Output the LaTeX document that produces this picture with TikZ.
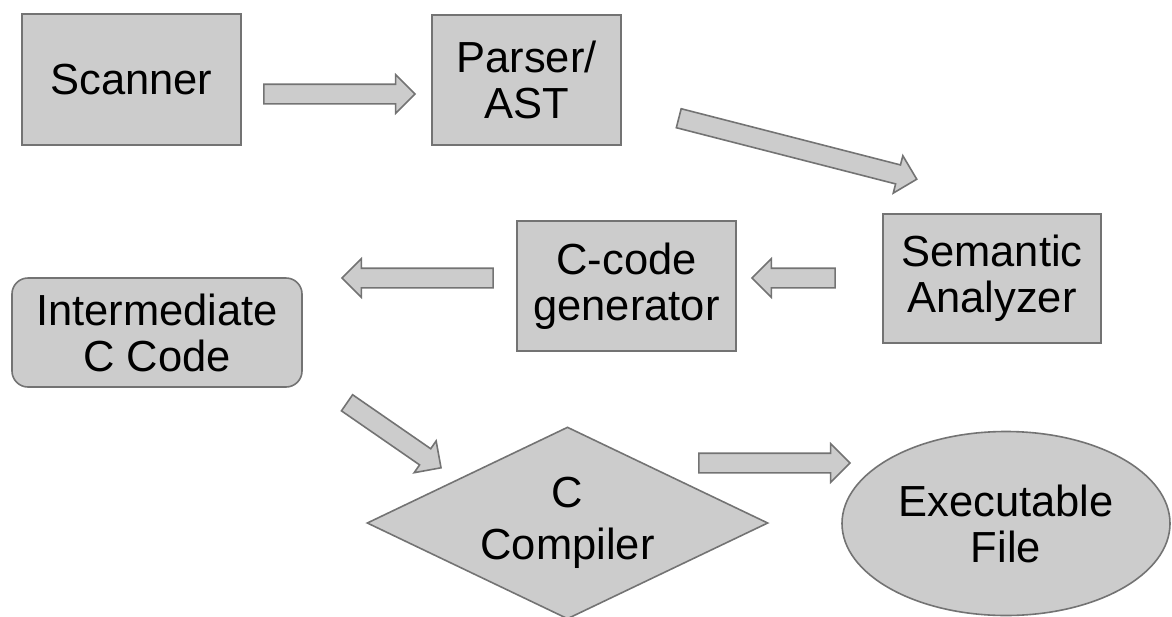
\documentclass[tikz,border=0pt]{standalone}
\usepackage{fontspec}
\setmainfont{Liberation Sans}
\usetikzlibrary{shapes.geometric,shapes.arrows,calc}
\definecolor{boxfill}{RGB}{204,204,204}
\definecolor{boxedge}{RGB}{115,115,115}
\tikzset{
  base/.style={draw=boxedge, fill=boxfill, line width=1.6pt, align=center, inner sep=0pt,
    font=\fontsize{43.5}{46}\selectfont},
  barrow/.style={single arrow, draw=boxedge, fill=boxfill, line width=1.6pt,
    inner xsep=0pt, inner ysep=9pt, single arrow head extend=9.5pt,
    single arrow tip angle=90, single arrow head indent=0pt},
}
\newcommand\blockarrow[2]{%
  \path let \p1=(#1), \p2=(#2),
    \n1={atan2(\y2-\y1,\x2-\x1)}, \n2={veclen(\x2-\x1,\y2-\y1)} in
    node[barrow, rotate=\n1, minimum height=\n2] at ($(#1)!0.5!(#2)$) {};}
\begin{document}
\begin{tikzpicture}[x=1pt,y=-1pt]
\useasboundingbox (0,0) rectangle (1172,616);
\node[base, minimum width=219pt, minimum height=131pt] (scan) at (131.5,79.5) {Scanner};
\node[base, minimum width=189pt, minimum height=130pt] (parse) at (526.5,80) {Parser/\\AST};
\node[base, minimum width=218pt, minimum height=129pt] (sem) at (992,278.5) {Semantic\\Analyzer};
\node[base, minimum width=219pt, minimum height=130pt] (cgen) at (626.5,286) {C-code\\generator};
\node[base, rounded corners=16pt, minimum width=290pt, minimum height=109pt] (inter) at (157,332.5) {Intermediate\\C Code};
\node[base, diamond, minimum width=401pt, minimum height=192pt, aspect=2.09,
  font=\fontsize{43.5}{52}\selectfont] (comp) at (567.5,523) {C\\Compiler};
\node[base, ellipse, minimum width=328pt, minimum height=184pt] (exe) at (1006,523.5) {Executable\\File};

\coordinate (a1s) at (259,94);  \coordinate (a1e) at (410,94);
\coordinate (a2s) at (674,117); \coordinate (a2e) at (912,178);
\coordinate (a3s) at (840,278); \coordinate (a3e) at (757,278);
\coordinate (a4s) at (498,278); \coordinate (a4e) at (347,278);
\coordinate (a5s) at (343,400); \coordinate (a5e) at (437,465);
\coordinate (a6s) at (694,463); \coordinate (a6e) at (845,463);
\blockarrow{a1s}{a1e}
\blockarrow{a2s}{a2e}
\blockarrow{a3s}{a3e}
\blockarrow{a4s}{a4e}
\blockarrow{a5s}{a5e}
\blockarrow{a6s}{a6e}
\end{tikzpicture}
\end{document}
